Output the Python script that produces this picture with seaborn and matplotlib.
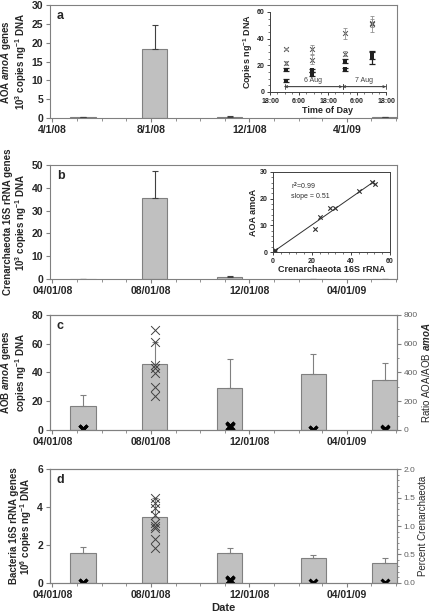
import numpy as np
import pandas as pd
import seaborn as sns
import matplotlib.pyplot as plt
import matplotlib.dates as mdates
from matplotlib.ticker import MultipleLocator, FormatStrFormatter

sns.set_style('ticks')
plt.rcParams['font.family'] = ['Liberation Sans', 'DejaVu Sans']
plt.rcParams['mathtext.fontset'] = 'custom'
plt.rcParams['mathtext.rm'] = 'Liberation Sans:bold'
plt.rcParams['mathtext.it'] = 'Liberation Sans:italic:bold'
plt.rcParams['mathtext.bf'] = 'Liberation Sans:bold'

# sampling dates (bar centres)
dates = pd.to_datetime(['2008-05-09', '2008-08-06', '2008-11-07', '2009-02-18', '2009-05-18'])

# bar means and upper error
aoa = [0.15, 18.3, 0.35, 0.05, 0.15]
aoa_err = [0.1, 6.4, 0.3, 0.02, 0.05]
cren = [0.05, 35.4, 0.75, 0.05, 0.05]
cren_err = [0.02, 12.0, 0.5, 0.02, 0.02]
aob = [16.3, 45.8, 29.4, 38.8, 34.8]
aob_err = [7.7, 15.0, 19.8, 13.8, 12.0]
bact = [1.57, 3.49, 1.57, 1.31, 1.04]
bact_err = [0.31, 1.01, 0.29, 0.16, 0.29]

# individual samples, AOA/AOB ratio (panel c right axis)
ratio_aug = [696, 608, 452, 429, 394, 301, 237]
ratio_other_idx = [0, 0, 0, 2, 2, 2, 3, 3, 4, 4]
ratio_other = [4, 8, 6, 20, 28, 25, 1, 2, 3, 5]

# individual samples, percent Crenarchaeota (panel d right axis)
pct_aug = [1.49, 1.41, 1.32, 1.20, 1.05, 1.0, 0.96, 0.77, 0.62]
pct_other_idx = [0, 0, 2, 2, 2, 3, 4]
pct_other = [0.002, 0.005, 0.04, 0.06, 0.05, 0.002, 0.003]

# inset a: diel sampling, hours after 18:00 on 5 Aug
diel_h = [6.5, 17.5, 31, 42]
cr_hi = [32, 32, 44, 51]
cr_hi_err = [0.8, 3.5, 4, 6]
cr_lo = [21.5, 24.3, 28.7, 52]
cr_lo_err = [1.5, 3.5, 2, 3]
am_hi = [16.7, 16.3, 23.1, 27.5]
am_hi_err = [1.2, 1.0, 1.5, 2.5]
am_lo = [8.6, 13.5, 17.0, 25.8]
am_lo_err = [1.2, 1.5, 1.0, 5.0]

# inset b: AOA amoA vs Crenarchaeota 16S
cren_x = [0.2, 0.5, 0.8, 1.2, 21.7, 24.0, 29.2, 31.8, 44.3, 50.6, 52.2]
aoa_y = [0.1, 0.3, 0.4, 0.6, 8.5, 13.3, 16.6, 16.4, 22.9, 26.3, 25.4]

GRAY = '#808080'
xnum = mdates.date2num(dates)
bar_w = 31 / np.diff(xnum).min()

fig = plt.figure(figsize=(4.34, 6.16), dpi=100)


def panel(rect, vals, errs, ecol, ymax, ystep, letter, ylabel, fmt):
    ax = fig.add_axes(rect)
    sns.barplot(x=xnum, y=vals, native_scale=True, orient='x', width=bar_w,
                color='#c0c0c0', edgecolor=GRAY, linewidth=0.8, saturation=1,
                errorbar=None, ax=ax)
    ax.errorbar(xnum, vals, yerr=[np.zeros(len(vals)), errs], fmt='none',
                ecolor=ecol, elinewidth=0.8, capsize=2.5, capthick=0.8)
    ax.set_xlim(mdates.date2num(pd.Timestamp('2008-03-29')),
                mdates.date2num(pd.Timestamp('2009-06-02')))
    ax.set_ylim(0, ymax)
    ax.yaxis.set_major_locator(MultipleLocator(ystep))
    ax.xaxis.set_major_locator(mdates.MonthLocator(bymonth=[4, 8, 12]))
    ax.xaxis.set_minor_locator(mdates.MonthLocator())
    ax.xaxis.set_major_formatter(mdates.DateFormatter(fmt))
    for s in ax.spines.values():
        s.set_color(GRAY)
        s.set_linewidth(0.8)
    ax.tick_params(which='both', direction='out', color=GRAY, labelsize=7.5, pad=2)
    ax.tick_params(which='major', length=3)
    ax.tick_params(which='minor', length=2)
    for t in ax.get_xticklabels() + ax.get_yticklabels():
        t.set_fontweight('bold')
    ax.set_ylabel(ylabel, fontsize=7, fontweight='bold', labelpad=2,
                  linespacing=1.0)
    ax.set_xlabel('')
    ax.text(0.02, 0.9, letter, transform=ax.transAxes, fontsize=9,
            fontweight='bold', va='center')
    return ax


def twin(ax, ymax, step, minor, label, fmt):
    ax2 = ax.twinx()
    ax2.set_ylim(0, ymax)
    ax2.yaxis.set_major_locator(MultipleLocator(step))
    ax2.yaxis.set_minor_locator(MultipleLocator(minor))
    ax2.yaxis.set_major_formatter(FormatStrFormatter(fmt))
    for s in ax2.spines.values():
        s.set_color(GRAY)
        s.set_linewidth(0.8)
    ax2.tick_params(which='both', direction='out', color=GRAY, labelsize=6,
                    labelcolor='#606060', pad=1.5)
    ax2.tick_params(which='major', length=3)
    ax2.tick_params(which='minor', length=1.5)
    ax2.set_ylabel(label, fontsize=7, labelpad=2)
    return ax2


ax_a = panel([0.115, 0.8084, 0.800, 0.1834], aoa, aoa_err, '#404040', 30, 5, 'a',
             'AOA $amoA$ genes\n10$^3$ copies ng$^{-1}$ DNA', '%-m/%-d/%y')
ax_b = panel([0.115, 0.547, 0.800, 0.185], cren, cren_err, '#404040', 50, 10, 'b',
             'Crenarchaeota 16S rRNA genes\n10$^3$ copies ng$^{-1}$ DNA', '%m/%d/%y')
ax_c = panel([0.115, 0.302, 0.800, 0.187], aob, aob_err, GRAY, 80, 20, 'c',
             'AOB $amoA$ genes\ncopies ng$^{-1}$ DNA', '%m/%d/%y')
ax_d = panel([0.115, 0.0536, 0.800, 0.185], bact, bact_err, GRAY, 6, 2, 'd',
             'Bacteria 16S rRNA genes\n10$^6$ copies ng$^{-1}$ DNA', '%m/%d/%y')
ax_d.set_xlabel('Date', fontsize=8, fontweight='bold', labelpad=2)

# panel c ratio markers
ax_c2 = twin(ax_c, 800, 200, 100, 'Ratio AOA/AOB $amoA$', '%d')
sns.scatterplot(x=[xnum[1]] * len(ratio_aug), y=ratio_aug, marker='x', s=40,
                color='#404040', linewidth=0.7, ax=ax_c2)
sns.scatterplot(x=xnum[ratio_other_idx], y=ratio_other, marker='x', s=32,
                color='black', linewidth=2.2, ax=ax_c2)
ax_c2.set_xlim(ax_c.get_xlim())

# panel d percent markers
ax_d2 = twin(ax_d, 2.0, 0.5, 0.1, 'Percent Crenarchaeota', '%.1f')
sns.scatterplot(x=[xnum[1]] * len(pct_aug), y=pct_aug, marker='x', s=40,
                color='#404040', linewidth=0.7, ax=ax_d2)
sns.scatterplot(x=xnum[pct_other_idx], y=pct_other, marker='x', s=32,
                color='black', linewidth=2.2, ax=ax_d2)
ax_d2.set_xlim(ax_d.get_xlim())

# inset a: diel cycle
ins_a = fig.add_axes([270 / 434, 1 - 92 / 616, 116 / 434, 80 / 616])
for yv, ev in [(cr_hi, cr_hi_err), (cr_lo, cr_lo_err)]:
    ins_a.errorbar(diel_h, yv, yerr=ev, fmt='none', ecolor='#909090',
                   elinewidth=0.6, capsize=1.5, capthick=0.6)
    sns.scatterplot(x=diel_h, y=yv, marker='x', s=12, color='#505050',
                    linewidth=0.7, ax=ins_a)
for yv, ev in [(am_hi, am_hi_err), (am_lo, am_lo_err)]:
    ins_a.errorbar(diel_h, yv, yerr=ev, fmt='none', ecolor='#202020',
                   elinewidth=0.9, capsize=2, capthick=0.9)
    sns.scatterplot(x=diel_h, y=yv, marker='s', s=6, color='#202020',
                    linewidth=0, ax=ins_a)
ins_a.set_xlim(0, 48)
ins_a.set_ylim(0, 60)
ins_a.set_xticks([0, 12, 24, 36, 48])
ins_a.set_xticklabels(['18:00', '6:00', '18:00', '6:00', '18:00'])
ins_a.set_yticks([0, 20, 40, 60])
ins_a.xaxis.set_minor_locator(MultipleLocator(3))
ins_a.yaxis.set_minor_locator(MultipleLocator(5))
for side in ['top', 'right']:
    ins_a.spines[side].set_visible(False)
for s in ['left', 'bottom']:
    ins_a.spines[s].set_color('#404040')
    ins_a.spines[s].set_linewidth(0.7)
ins_a.tick_params(which='both', direction='out', color='#404040', labelsize=5, pad=1.5)
ins_a.tick_params(which='major', length=2.5, width=0.7)
ins_a.tick_params(which='minor', length=1.2, width=0.5)
for t in ins_a.get_xticklabels() + ins_a.get_yticklabels():
    t.set_fontweight('bold')
ins_a.set_xlabel('Time of Day', fontsize=6.5, fontweight='bold', labelpad=1)
ins_a.set_ylabel('Copies ng$^{-1}$ DNA', fontsize=6.5, fontweight='bold', labelpad=1)
for (h0, h1), lab in [((6, 30), '6 Aug'), ((30, 48), '7 Aug')]:
    ins_a.annotate('', xy=(h1, 4), xytext=(h0, 4),
                   arrowprops=dict(arrowstyle='<->', lw=0.6, color='#404040',
                                   shrinkA=0, shrinkB=0, mutation_scale=4))
    ins_a.annotate('', xy=(h1, 4), xytext=(h0, 4),
                   arrowprops=dict(arrowstyle='|-|', lw=0.6, color='#404040',
                                   shrinkA=0, shrinkB=0, mutation_scale=2))
    ins_a.text((h0 + h1) / 2, 6, lab, fontsize=5, color='#404040',
               ha='center', va='bottom')

# inset b: AOA amoA vs Crenarchaeota 16S rRNA
ins_b = fig.add_axes([273 / 434, 1 - 252 / 616, 117 / 434, 80 / 616])
sns.regplot(x=cren_x, y=aoa_y, ci=None, scatter=False, ax=ins_b,
            line_kws=dict(color='#303030', lw=0.7))
sns.scatterplot(x=cren_x, y=aoa_y, marker='x', s=10, color='#303030',
                linewidth=0.8, ax=ins_b)
ins_b.set_xlim(0, 60)
ins_b.set_ylim(0, 30)
ins_b.set_xticks([0, 20, 40, 60])
ins_b.set_yticks([0, 10, 20, 30])
ins_b.xaxis.set_minor_locator(MultipleLocator(4))
ins_b.yaxis.set_minor_locator(MultipleLocator(2))
for s in ins_b.spines.values():
    s.set_color('#404040')
    s.set_linewidth(0.7)
ins_b.tick_params(which='both', direction='out', color='#404040', labelsize=5, pad=1.5)
ins_b.tick_params(which='major', length=2.5, width=0.7)
ins_b.tick_params(which='minor', length=1.2, width=0.5)
for t in ins_b.get_xticklabels() + ins_b.get_yticklabels():
    t.set_fontweight('bold')
ins_b.set_xlabel('Crenarchaeota 16S rRNA', fontsize=6.5, fontweight='bold', labelpad=0.5)
ins_b.set_ylabel('AOA amoA', fontsize=6.5, fontweight='bold', labelpad=1)
ins_b.text(9, 24.5, 'r$^2$=0.99', fontsize=5, color='#303030', va='center')
ins_b.text(9, 21, 'slope = 0.51', fontsize=5, color='#303030', va='center')

fig.savefig('out.png', dpi=100)
